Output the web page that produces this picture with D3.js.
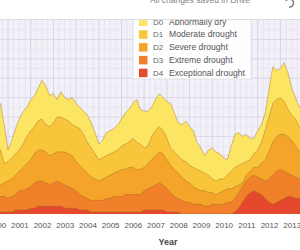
<!DOCTYPE html>
<html>
<head>
<meta charset="utf-8">
<script src="https://cdn.jsdelivr.net/npm/d3@7"></script>
<style>
  body { margin: 0; background: #fff; }
  svg { display: block; font-family: "Liberation Sans", Arial, sans-serif; }
</style>
</head>
<body>
<div id="chart"></div>
<script>
// two-monthly readings, percent of area
const dates = [
  "2000-07","2000-09","2000-11","2001-01","2001-03","2001-05","2001-07","2001-09","2001-11","2002-01",
  "2002-03","2002-05","2002-07","2002-09","2002-11","2003-01","2003-03","2003-05","2003-07","2003-09",
  "2003-11","2004-01","2004-03","2004-05","2004-07","2004-09","2004-11","2005-01","2005-03","2005-05",
  "2005-07","2005-09","2005-11","2006-01","2006-03","2006-05","2006-07","2006-09","2006-11","2007-01",
  "2007-03","2007-05","2007-07","2007-09","2007-11","2008-01","2008-03","2008-05","2008-07","2008-09",
  "2008-11","2009-01","2009-03","2009-05","2009-07","2009-09","2009-11","2010-01","2010-03","2010-05",
  "2010-07","2010-09","2010-11","2011-01","2011-03","2011-05","2011-07","2011-09","2011-11","2012-01",
  "2012-03","2012-05","2012-07","2012-09","2012-11","2013-01","2013-03","2013-05","2013-07","2013-09",
  "2013-11","2014-01"
];
const d0_d4 = [57,57,46,33,38,44,49,53,55,59, 61,65,69,66,61,62,59,63,60,59,
  60,57,55,53,51,47,42,36,38,42, 43,44,46,49,52,54,57,59,54,53,
  53,55,59,62,60,58,57,52,47,46, 48,45,43,37,34,30,33,34,32,31,
  29,28,35,41,42,40,41,39,39,43, 46,52,64,76,74,75,78,73,65,60, 55,54];
const d1_d4 = [33,33,26,27,29,31,33,36,40,43, 45,48,49,46,45,47,50,50,49,48,
  46,45,44,41,37,34,31,28,29,30, 31,32,33,35,36,37,39,37,36,34,
  35,40,43,45,43,39,34,32,30,28, 27,25,24,23,22,21,20,18,17,18,
  18,20,22,24,25,26,27,28,31,33, 37,43,50,57,59,60,58,54,51,49, 45,43];
const d2_d4 = [14,15,16,17,18,20,22,24,26,28, 31,33,33,32,30,31,32,32,32,31,
  30,27,25,23,21,19,18,17,18,19, 20,21,22,23,23,24,24,23,23,24,
  26,28,30,32,31,28,25,23,21,19, 17,16,14,13,12,12,11,11,10,11,
  12,13,13,14,15,16,20,22,24,24, 26,28,32,37,40,41,41,40,38,35, 32,31];
const d3_d4 = [9,9,9,8,9,10,12,12,13,14, 16,17,17,16,15,16,17,16,15,14,
  13,12,10,9,8,7,7,7,7,8, 8,9,9,9,10,10,10,10,10,12,
  13,14,15,16,15,13,11,9,8,7, 6,6,5,5,5,4,4,5,5,5,
  5,6,6,8,11,14,17,19,20,19, 18,17,18,20,22,23,22,21,20,19, 18,18];
const d4 = [1,1,1,1,1,2,2,2,2,3, 3,4,4,4,4,4,4,4,3,3,
  3,3,2,2,2,1,1,1,1,1, 1,1,1,1,1,1,1,1,1,2,
  2,2,2,2,2,1,1,1,1,0, 0,0,0,0,0,0,0,0,0,0,
  0,0,0,1,3,6,9,11,12,11, 10,8,6,5,6,7,8,9,9,8, 8,7];

const codes = ["D0","D1","D2","D3","D4"];
const labels = ["Abnormally dry","Moderate drought","Severe drought","Extreme drought","Exceptional drought"];
const colors = ["#fde564","#f9c53a","#f5a42a","#f0802a","#e4492d"];
const years = d3.range(2000, 2014);

const W = 300, H = 250;
const plot = {left: 0, right: 300, top: 20, bottom: 214};

const parse = d3.timeParse("%Y-%m");
const x = d3.scaleTime()
  .domain([new Date(2000,0,1), new Date(2014,0,1)])
  .range([-14.7, 303.1]);
const y = d3.scaleLinear().domain([0,100]).range([plot.bottom, plot.top]);

const svg = d3.select("#chart").append("svg").attr("width", W).attr("height", H);

svg.append("defs").append("clipPath").attr("id","clip")
  .append("rect").attr("x",plot.left).attr("y",plot.top)
  .attr("width",plot.right-plot.left).attr("height",plot.bottom-plot.top);

const g = svg.append("g").attr("clip-path","url(#clip)");

g.append("rect").attr("x",plot.left).attr("y",plot.top)
  .attr("width",plot.right-plot.left).attr("height",plot.bottom-plot.top)
  .attr("fill","#f3f1f8");

// minor + major grid
const quarters = d3.timeMonth.every(3).range(new Date(2000,0,1), new Date(2014,3,1));
g.selectAll(".vminor").data(quarters).enter().append("line")
  .attr("x1",d=>x(d)).attr("x2",d=>x(d)).attr("y1",plot.top).attr("y2",plot.bottom)
  .attr("stroke", d => d.getMonth()===0 ? "#d8d2e6" : "#e7e3ef").attr("stroke-width",1);
g.selectAll(".hgrid").data(d3.range(5,100,5)).enter().append("line")
  .attr("x1",plot.left).attr("x2",plot.right).attr("y1",d=>y(d)).attr("y2",d=>y(d))
  .attr("stroke", d => d%10===0 ? "#dcd6e8" : "#e9e5f0").attr("stroke-width",1);

const series = [d0_d4, d1_d4, d2_d4, d3_d4, d4];
const area = d3.area()
  .x((d,i) => x(parse(dates[i])))
  .y0(y(0))
  .y1(d => y(d));
const line = d3.line()
  .x((d,i) => x(parse(dates[i])))
  .y(d => y(d));

series.forEach((vals, k) => {
  g.append("path").datum(vals).attr("d", area).attr("fill", colors[k]);
  g.append("path").datum(vals).attr("d", line)
    .attr("fill","none").attr("stroke","rgba(150,100,40,0.45)").attr("stroke-width",0.9);
});

// x axis labels centred on each year
const ax = svg.append("g").attr("transform","translate(0," + plot.bottom + ")")
  .call(d3.axisBottom(x).tickValues(years.map(yr => new Date(yr,6,2)))
    .tickFormat(d3.timeFormat("%Y")).tickSize(0).tickPadding(8));
ax.select(".domain").remove();
ax.selectAll("text").attr("fill","#555").style("font-size","8px");

svg.append("text").attr("x",168).attr("y",245).attr("text-anchor","middle")
  .attr("fill","#444").style("font-size","9px").style("font-weight","bold").text("Year");

// legend
const lg = svg.append("g");
lg.append("rect").attr("x",133).attr("y",10).attr("width",118).attr("height",69)
  .attr("fill","#fff").attr("fill-opacity",0.92).attr("stroke","#e2e0e6");
codes.forEach((c,i) => {
  const cy = 21.5 + i*12.8;
  lg.append("rect").attr("x",139).attr("y",cy-4).attr("width",8.5).attr("height",8.5).attr("fill",colors[i]);
  lg.append("text").attr("x",153).attr("y",cy+3).attr("fill","#666").style("font-size","8px").text(c);
  lg.append("text").attr("x",169).attr("y",cy+3).attr("fill","#555").style("font-size","8.6px").text(labels[i]);
});

// editor bar over the top of the chart
svg.append("rect").attr("x",0).attr("y",0).attr("width",W).attr("height",plot.top).attr("fill","#fff");
svg.append("line").attr("x1",0).attr("x2",W).attr("y1",plot.top-0.5).attr("y2",plot.top-0.5)
  .attr("stroke","#dadce0");
svg.append("text").attr("x",200).attr("y",3).attr("text-anchor","middle")
  .attr("fill","#80868b").style("font-size","8.5px").text("All changes saved in Drive");
svg.append("path").attr("d","M286,1 A4,4 0 1 1 289,7")
  .attr("fill","none").attr("stroke","#777").attr("stroke-width",1.3);
</script>
</body>
</html>
